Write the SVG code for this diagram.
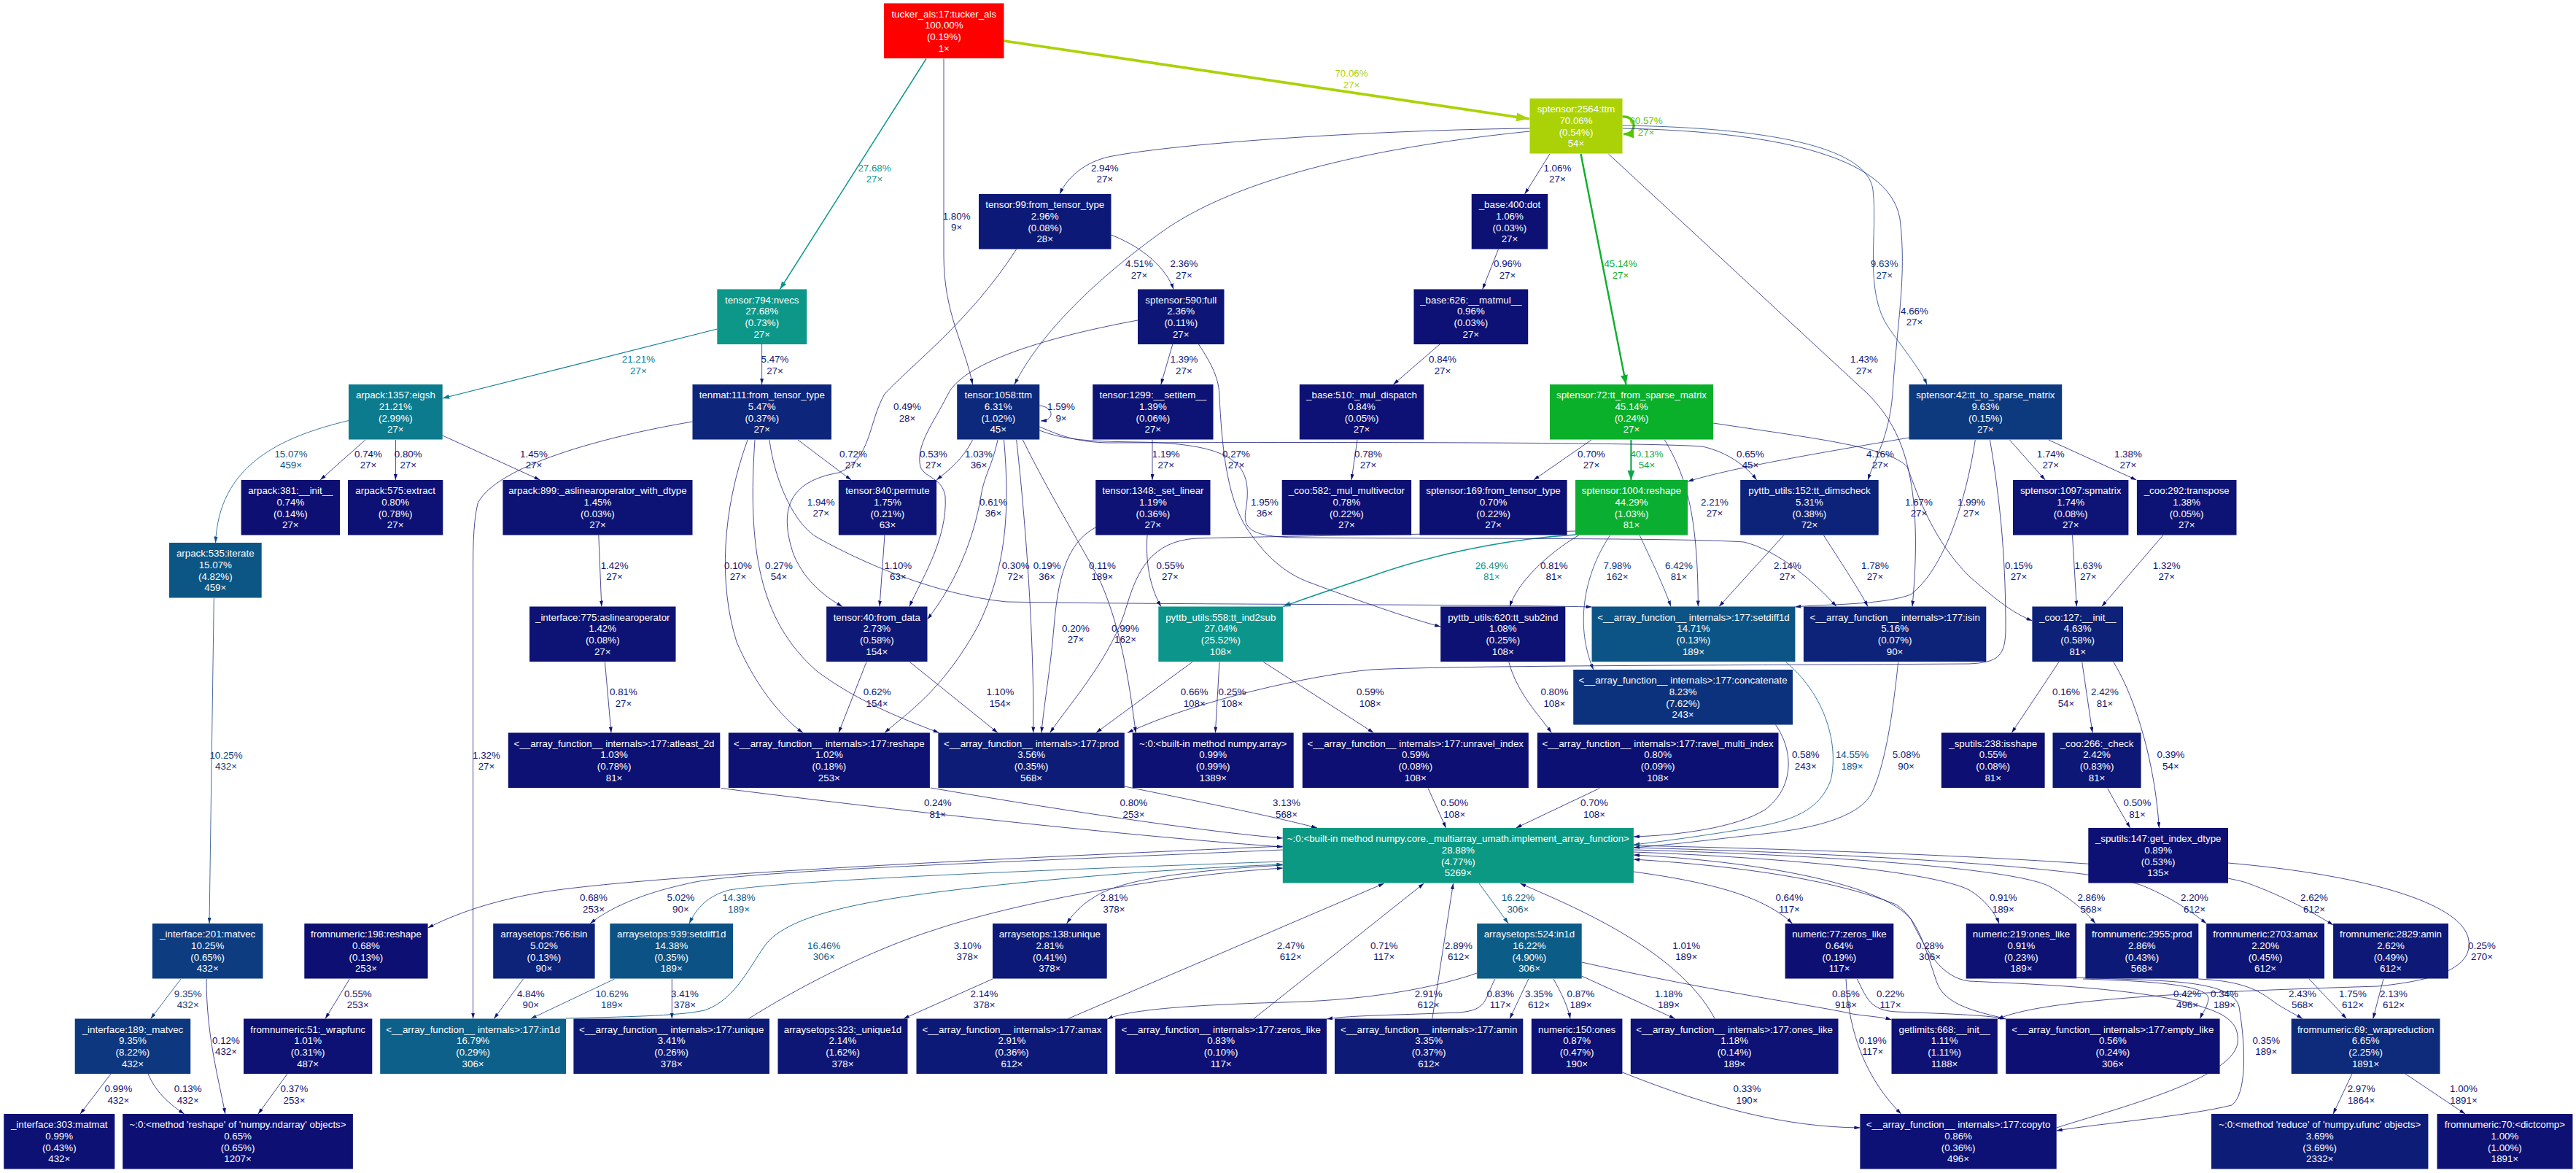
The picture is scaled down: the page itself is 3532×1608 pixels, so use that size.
<svg xmlns="http://www.w3.org/2000/svg" width="3532" height="1608" viewBox="0 0 3532 1608">
<defs>
<style>
text{font-family:"Liberation Sans",Arial,sans-serif;font-size:13.33px;text-anchor:middle}
.nd text{fill:#ffffff}
.e path{fill:none;stroke-width:0.75}
.c0 path{stroke:#0d1074;marker-end:url(#k0)} .c0 text{fill:#0d1074}
.c1 path{stroke:#0d1776;marker-end:url(#k1)} .c1 text{fill:#0d1776}
.c2 path{stroke:#0d2179;marker-end:url(#k2)} .c2 text{fill:#0d2179}
.c3 path{stroke:#0d2d7c;marker-end:url(#k3)} .c3 text{fill:#0d2d7c}
.c4 path{stroke:#0d3a7f;marker-end:url(#k4)} .c4 text{fill:#0d3a7f}
.c5 path{stroke:#0c5486;stroke-width:0.8;marker-end:url(#k5)} .c5 text{fill:#0c5486}
.c6 path{stroke:#0c5d88;stroke-width:0.88;marker-end:url(#k6)} .c6 text{fill:#0c5d88}
.c7 path{stroke:#0c7b8e;stroke-width:1.13;marker-end:url(#k7)} .c7 text{fill:#0c7b8e}
.c8 path{stroke:#0c968b;stroke-width:1.45;marker-end:url(#k8)} .c8 text{fill:#0c968b}
.c9 path{stroke:#0ba849;stroke-width:2.14;marker-end:url(#k9)} .c9 text{fill:#0ba849}
.c10 path{stroke:#0aaf2a;stroke-width:2.41;marker-end:url(#k10)} .c10 text{fill:#0aaf2a}
.c11 path{stroke:#58c508;stroke-width:3.23;marker-end:url(#k11)} .c11 text{fill:#58c508}
.c12 path{stroke:#aad207;stroke-width:3.74;marker-end:url(#k12)} .c12 text{fill:#aad207}
</style>
<marker id="k0" viewBox="0 0 10 10" refX="10" refY="5" markerWidth="8" markerHeight="5" markerUnits="userSpaceOnUse" orient="auto" preserveAspectRatio="none"><path d="M0,0L10,5L0,10z" fill="#0d1074"/></marker>
<marker id="k1" viewBox="0 0 10 10" refX="10" refY="5" markerWidth="8" markerHeight="5" markerUnits="userSpaceOnUse" orient="auto" preserveAspectRatio="none"><path d="M0,0L10,5L0,10z" fill="#0d1776"/></marker>
<marker id="k2" viewBox="0 0 10 10" refX="10" refY="5" markerWidth="8" markerHeight="5" markerUnits="userSpaceOnUse" orient="auto" preserveAspectRatio="none"><path d="M0,0L10,5L0,10z" fill="#0d2179"/></marker>
<marker id="k3" viewBox="0 0 10 10" refX="10" refY="5" markerWidth="8" markerHeight="5" markerUnits="userSpaceOnUse" orient="auto" preserveAspectRatio="none"><path d="M0,0L10,5L0,10z" fill="#0d2d7c"/></marker>
<marker id="k4" viewBox="0 0 10 10" refX="10" refY="5" markerWidth="8" markerHeight="5" markerUnits="userSpaceOnUse" orient="auto" preserveAspectRatio="none"><path d="M0,0L10,5L0,10z" fill="#0d3a7f"/></marker>
<marker id="k5" viewBox="0 0 10 10" refX="10" refY="5" markerWidth="8.5" markerHeight="5.5" markerUnits="userSpaceOnUse" orient="auto" preserveAspectRatio="none"><path d="M0,0L10,5L0,10z" fill="#0c5486"/></marker>
<marker id="k6" viewBox="0 0 10 10" refX="10" refY="5" markerWidth="8.5" markerHeight="5.5" markerUnits="userSpaceOnUse" orient="auto" preserveAspectRatio="none"><path d="M0,0L10,5L0,10z" fill="#0c5d88"/></marker>
<marker id="k7" viewBox="0 0 10 10" refX="10" refY="5" markerWidth="9.5" markerHeight="6.5" markerUnits="userSpaceOnUse" orient="auto" preserveAspectRatio="none"><path d="M0,0L10,5L0,10z" fill="#0c7b8e"/></marker>
<marker id="k8" viewBox="0 0 10 10" refX="10" refY="5" markerWidth="10.5" markerHeight="7.5" markerUnits="userSpaceOnUse" orient="auto" preserveAspectRatio="none"><path d="M0,0L10,5L0,10z" fill="#0c968b"/></marker>
<marker id="k9" viewBox="0 0 10 10" refX="10" refY="5" markerWidth="13" markerHeight="10" markerUnits="userSpaceOnUse" orient="auto" preserveAspectRatio="none"><path d="M0,0L10,5L0,10z" fill="#0ba849"/></marker>
<marker id="k10" viewBox="0 0 10 10" refX="10" refY="5" markerWidth="13" markerHeight="10" markerUnits="userSpaceOnUse" orient="auto" preserveAspectRatio="none"><path d="M0,0L10,5L0,10z" fill="#0aaf2a"/></marker>
<marker id="k11" viewBox="0 0 10 10" refX="10" refY="5" markerWidth="14" markerHeight="11" markerUnits="userSpaceOnUse" orient="auto" preserveAspectRatio="none"><path d="M0,0L10,5L0,10z" fill="#58c508"/></marker>
<marker id="k12" viewBox="0 0 10 10" refX="10" refY="5" markerWidth="18" markerHeight="12" markerUnits="userSpaceOnUse" orient="auto" preserveAspectRatio="none"><path d="M0,0L10,5L0,10z" fill="#aad207"/></marker>
</defs>
<rect x="0" y="0" width="3532" height="1608" fill="#ffffff"/>
<g id="edges">
<g class="e c12"><path d="M1376.5,56 L2097,163"/><text x="1853" y="105.3">70.06%<tspan x="1853" dy="15.7">27×</tspan></text></g>
<g class="e c8"><path d="M1270,80.5 L1069.5,396.5"/><text x="1199" y="234.7">27.68%<tspan x="1199" dy="15.7">27×</tspan></text></g>
<g class="e c1"><path d="M1294,80.5 L1294,350 C1294,430 1322,470 1333.5,527"/><text x="1311.6" y="300.7">1.80%<tspan x="1311.6" dy="15.7">9×</tspan></text></g>
<g class="e c11"><path d="M2224.5,160 C2244,158 2246,184 2226,184"/><text x="2257" y="170.3">60.57%<tspan x="2257" dy="15.7">27×</tspan></text></g>
<g class="e c1"><path d="M2097.5,176 C1900,178 1620,195 1520,215 C1490,222 1465,240 1453,266"/><text x="1514.8" y="234.7">2.94%<tspan x="1514.8" dy="15.7">27×</tspan></text></g>
<g class="e c2"><path d="M2097.5,180 C1900,200 1700,240 1590,320 C1480,400 1420,470 1391,527"/><text x="1562" y="366.3">4.51%<tspan x="1562" dy="15.7">27×</tspan></text></g>
<g class="e c0"><path d="M2125,211 L2090.6,266"/><text x="2135.4" y="234.7">1.06%<tspan x="2135.4" dy="15.7">27×</tspan></text></g>
<g class="e c10"><path d="M2167.5,211 L2229.5,527"/><text x="2222" y="366.3">45.14%<tspan x="2222" dy="15.7">27×</tspan></text></g>
<g class="e c0"><path d="M2205.4,211 L2561,540 C2600,580 2640,640 2622,831.5"/><text x="2556" y="497.2">1.43%<tspan x="2556" dy="15.7">27×</tspan></text></g>
<g class="e c4"><path d="M2224.5,172 C2420,175 2560,200 2568,260 C2575,320 2555,400 2590,450 C2615,485 2635,510 2642,527"/><text x="2583.7" y="366.3">9.63%<tspan x="2583.7" dy="15.7">27×</tspan></text></g>
<g class="e c2"><path d="M2224.5,176 C2420,180 2590,210 2605,300 C2615,380 2600,450 2595,540 C2590,600 2570,630 2561,658"/><text x="2625" y="430.7">4.66%<tspan x="2625" dy="15.7">27×</tspan></text></g>
<g class="e c7"><path d="M983.3,451 L606.7,546"/><text x="875.4" y="497.2">21.21%<tspan x="875.4" dy="15.7">27×</tspan></text></g>
<g class="e c2"><path d="M1044.6,472 L1044.6,527"/><text x="1062.5" y="497.2">5.47%<tspan x="1062.5" dy="15.7">27×</tspan></text></g>
<g class="e c1"><path d="M1523.5,322 C1570,340 1600,370 1609,396.5"/><text x="1623.4" y="366.3">2.36%<tspan x="1623.4" dy="15.7">27×</tspan></text></g>
<g class="e c0"><path d="M1393.7,341.5 C1330,440 1250,500 1213,540 C1190,580 1195,630 1150,648 C1080,660 1068,700 1088,760 C1105,800 1135,820 1155,831.5"/><text x="1244" y="562.2">0.49%<tspan x="1244" dy="15.7">28×</tspan></text></g>
<g class="e c0"><path d="M1607.8,472 L1591.8,527"/><text x="1623.4" y="497.2">1.39%<tspan x="1623.4" dy="15.7">27×</tspan></text></g>
<g class="e c0"><path d="M1560,439 C1420,465 1320,500 1300,540 C1280,580 1255,610 1262,640 C1268,655 1292,655 1296,680 C1300,740 1260,800 1247,831.5"/><text x="1280" y="626.7">0.53%<tspan x="1280" dy="15.7">27×</tspan></text></g>
<g class="e c0"><path d="M1643.5,472 C1662,500 1672,520 1672,545 C1675,600 1680,680 1710,725 C1740,770 1770,790 1800,800 C1880,830 1940,850 1975.2,859"/><text x="1695" y="626.7">0.27%<tspan x="1695" dy="15.7">27×</tspan></text></g>
<g class="e c5"><path d="M478,576.5 C380,600 300,640 295.6,744"/><text x="399" y="626.7">15.07%<tspan x="399" dy="15.7">459×</tspan></text></g>
<g class="e c0"><path d="M501,603 L439,658"/><text x="505" y="626.7">0.74%<tspan x="505" dy="15.7">27×</tspan></text></g>
<g class="e c0"><path d="M542.4,603 L542.4,658"/><text x="559.7" y="626.7">0.80%<tspan x="559.7" dy="15.7">27×</tspan></text></g>
<g class="e c0"><path d="M606.7,597 L740.5,658"/><text x="732" y="626.7">1.45%<tspan x="732" dy="15.7">27×</tspan></text></g>
<g class="e c0"><path d="M820.8,733.5 L824.8,831.5"/><text x="842.6" y="779.7">1.42%<tspan x="842.6" dy="15.7">27×</tspan></text></g>
<g class="e c0"><path d="M829.4,907.5 L838,1004.5"/><text x="855" y="953.1">0.81%<tspan x="855" dy="15.7">27×</tspan></text></g>
<g class="e c4"><path d="M293.3,820 L287,1266"/><text x="310" y="1039.7">10.25%<tspan x="310" dy="15.7">432×</tspan></text></g>
<g class="e c4"><path d="M248,1342 L206.6,1396.5"/><text x="257.7" y="1366.5">9.35%<tspan x="257.7" dy="15.7">432×</tspan></text></g>
<g class="e c0"><path d="M283,1342 C283,1420 300,1480 308.8,1527"/><text x="310" y="1430.7">0.12%<tspan x="310" dy="15.7">432×</tspan></text></g>
<g class="e c0"><path d="M152,1472 L110,1527"/><text x="162.4" y="1497.3">0.99%<tspan x="162.4" dy="15.7">432×</tspan></text></g>
<g class="e c0"><path d="M203,1472 C215,1500 235,1515 252.6,1527"/><text x="257.7" y="1497.3">0.13%<tspan x="257.7" dy="15.7">432×</tspan></text></g>
<g class="e c0"><path d="M394,1472 L354,1527"/><text x="403.5" y="1497.3">0.37%<tspan x="403.5" dy="15.7">253×</tspan></text></g>
<g class="e c0"><path d="M479.3,1342 L446,1396.5"/><text x="490.8" y="1366.7">0.55%<tspan x="490.8" dy="15.7">253×</tspan></text></g>
<g class="e c0"><path d="M1758.8,1160 C1300,1180 900,1200 750,1222 C670,1235 620,1255 586.6,1272"/><text x="814" y="1235.2">0.68%<tspan x="814" dy="15.7">253×</tspan></text></g>
<g class="e c2"><path d="M1758.8,1165 C1300,1185 1000,1195 940,1212 C880,1225 835,1245 809.3,1266"/><text x="933.4" y="1235.2">5.02%<tspan x="933.4" dy="15.7">90×</tspan></text></g>
<g class="e c5"><path d="M1758.8,1181 C1500,1190 1100,1205 1000,1220 C970,1228 955,1245 945,1266"/><text x="1013" y="1235.2">14.38%<tspan x="1013" dy="15.7">189×</tspan></text></g>
<g class="e c2"><path d="M717.5,1342 L677.3,1396.5"/><text x="727.8" y="1366.7">4.84%<tspan x="727.8" dy="15.7">90×</tspan></text></g>
<g class="e c4"><path d="M842.6,1342 L727.8,1396.5"/><text x="839" y="1366.7">10.62%<tspan x="839" dy="15.7">189×</tspan></text></g>
<g class="e c1"><path d="M921.3,1342 L921.3,1396.5"/><text x="939" y="1366.7">3.41%<tspan x="939" dy="15.7">378×</tspan></text></g>
<g class="e c6"><path d="M776,1396 C850,1394 930,1393 966,1385 C1010,1370 1030,1320 1052,1292 C1090,1250 1200,1230 1400,1210 C1550,1195 1680,1188 1758.8,1185"/><text x="1129.7" y="1300.7">16.46%<tspan x="1129.7" dy="15.7">306×</tspan></text></g>
<g class="e c1"><path d="M1026.4,1396.5 C1100,1350 1200,1300 1281.8,1274.6 C1400,1235 1600,1200 1758.8,1190"/><text x="1326.6" y="1300.7">3.10%<tspan x="1326.6" dy="15.7">378×</tspan></text></g>
<g class="e c1"><path d="M1361,1342 L1238.8,1396.5"/><text x="1349.5" y="1366.7">2.14%<tspan x="1349.5" dy="15.7">378×</tspan></text></g>
<g class="e c1"><path d="M1758.8,1186 C1600,1195 1530,1210 1500,1230 C1480,1242 1470,1255 1462.6,1266"/><text x="1527.5" y="1235.2">2.81%<tspan x="1527.5" dy="15.7">378×</tspan></text></g>
<g class="e c1"><path d="M1464.4,1396.5 L1897.8,1211"/><text x="1769.7" y="1300.7">2.47%<tspan x="1769.7" dy="15.7">612×</tspan></text></g>
<g class="e c0"><path d="M1719,1396.5 L1952.3,1211"/><text x="1897.8" y="1300.7">0.71%<tspan x="1897.8" dy="15.7">117×</tspan></text></g>
<g class="e c1"><path d="M1963.8,1396.5 L1992.5,1211"/><text x="2000" y="1300.7">2.89%<tspan x="2000" dy="15.7">612×</tspan></text></g>
<g class="e c6"><path d="M2028,1211 L2068.2,1266"/><text x="2081.4" y="1235.2">16.22%<tspan x="2081.4" dy="15.7">306×</tspan></text></g>
<g class="e c0"><path d="M2351.2,1396.5 C2300,1300 2150,1240 2084.3,1211"/><text x="2312.2" y="1300.7">1.01%<tspan x="2312.2" dy="15.7">189×</tspan></text></g>
<g class="e c1"><path d="M2025.2,1334 C1950,1360 1850,1372 1760,1374 C1620,1378 1545,1385 1518.3,1397"/><text x="1958.6" y="1366.7">2.91%<tspan x="1958.6" dy="15.7">612×</tspan></text></g>
<g class="e c0"><path d="M2049.9,1342 C2035,1370 2040,1385 2000,1388 C1900,1392 1850,1392 1819.1,1397"/><text x="2057.3" y="1366.7">0.83%<tspan x="2057.3" dy="15.7">117×</tspan></text></g>
<g class="e c1"><path d="M2095.8,1342 L2070,1396.5"/><text x="2110" y="1366.7">3.35%<tspan x="2110" dy="15.7">612×</tspan></text></g>
<g class="e c0"><path d="M2130,1342 C2140,1360 2150,1380 2153,1396.5"/><text x="2167.5" y="1366.7">0.87%<tspan x="2167.5" dy="15.7">189×</tspan></text></g>
<g class="e c0"><path d="M2168.7,1338 L2296.7,1396.5"/><text x="2288" y="1366.7">1.18%<tspan x="2288" dy="15.7">189×</tspan></text></g>
<g class="e c0"><path d="M2168.7,1319 C2350,1360 2500,1380 2540,1390 C2560,1393 2580,1394 2593.5,1398"/><text x="2531" y="1366.7">0.85%<tspan x="2531" dy="15.7">918×</tspan></text></g>
<g class="e c0"><path d="M2531,1342 C2535,1420 2560,1480 2606.7,1527"/><text x="2567.7" y="1430.7">0.19%<tspan x="2567.7" dy="15.7">117×</tspan></text></g>
<g class="e c0"><path d="M2546.4,1342 C2560,1370 2565,1385 2600,1387 C2680,1390 2730,1392 2750.2,1397"/><text x="2592" y="1366.7">0.22%<tspan x="2592" dy="15.7">117×</tspan></text></g>
<g class="e c0"><path d="M2224.4,1470 C2350,1520 2450,1545 2550.4,1546"/><text x="2395.5" y="1497.3">0.33%<tspan x="2395.5" dy="15.7">190×</tspan></text></g>
<g class="e c0"><path d="M2847.2,1340 C2950,1345 3060,1340 3070,1380 C3080,1440 3080,1500 3060,1515 C3000,1530 2880,1540 2819.7,1550"/><text x="3107.3" y="1430.7">0.35%<tspan x="3107.3" dy="15.7">189×</tspan></text></g>
<g class="e c0"><path d="M2856,1342 C2950,1345 3030,1350 3028,1370 C3026,1382 3020,1388 3016.6,1396.5"/><text x="3050" y="1366.7">0.34%<tspan x="3050" dy="15.7">189×</tspan></text></g>
<g class="e c0"><path d="M2819.7,1546 C2900,1520 3060,1480 3068,1430 C3072,1395 3040,1385 2990,1372 C2900,1352 2760,1348 2700,1345 C2660,1340 2640,1300 2620,1260 C2580,1210 2400,1180 2239.9,1172"/><text x="2999" y="1366.7">0.42%<tspan x="2999" dy="15.7">496×</tspan></text></g>
<g class="e c0"><path d="M2750.2,1396.5 C2700,1385 2665,1375 2655,1345 C2640,1300 2630,1260 2600,1240 C2500,1200 2350,1185 2239.9,1178"/><text x="2646" y="1300.7">0.28%<tspan x="2646" dy="15.7">306×</tspan></text></g>
<g class="e c0"><path d="M2239.9,1195 C2350,1210 2420,1230 2457.5,1266"/><text x="2453.4" y="1235.2">0.64%<tspan x="2453.4" dy="15.7">117×</tspan></text></g>
<g class="e c0"><path d="M2239.9,1168 C2450,1176 2650,1195 2700,1220 C2720,1232 2735,1250 2741,1266"/><text x="2746.8" y="1235.2">0.91%<tspan x="2746.8" dy="15.7">189×</tspan></text></g>
<g class="e c1"><path d="M2239.9,1165 C2500,1172 2760,1190 2810,1215 C2840,1232 2860,1250 2873,1266"/><text x="2867.4" y="1235.2">2.86%<tspan x="2867.4" dy="15.7">568×</tspan></text></g>
<g class="e c1"><path d="M2239.9,1162 C2550,1170 2880,1190 2940,1215 C2980,1232 3005,1250 3025.2,1266"/><text x="3009" y="1235.2">2.20%<tspan x="3009" dy="15.7">612×</tspan></text></g>
<g class="e c1"><path d="M2239.9,1159 C2600,1167 3000,1185 3080,1210 C3130,1228 3170,1250 3199.1,1268"/><text x="3173" y="1235.2">2.62%<tspan x="3173" dy="15.7">612×</tspan></text></g>
<g class="e c1"><path d="M3014.3,1342 C3080,1345 3100,1360 3120,1375 C3135,1385 3150,1392 3157,1396.5"/><text x="3157" y="1366.7">2.43%<tspan x="3157" dy="15.7">568×</tspan></text></g>
<g class="e c1"><path d="M3166,1342 L3217.5,1396.5"/><text x="3226" y="1366.7">1.75%<tspan x="3226" dy="15.7">612×</tspan></text></g>
<g class="e c1"><path d="M3268,1342 L3253.7,1396.5"/><text x="3282" y="1366.7">2.13%<tspan x="3282" dy="15.7">612×</tspan></text></g>
<g class="e c1"><path d="M3225,1472 L3199,1527"/><text x="3237.6" y="1497.3">2.97%<tspan x="3237.6" dy="15.7">1864×</tspan></text></g>
<g class="e c0"><path d="M3298,1472 L3380,1527"/><text x="3378" y="1497.3">1.00%<tspan x="3378" dy="15.7">1891×</tspan></text></g>
<g class="e c0"><path d="M3055,1183 C3250,1200 3380,1240 3385,1290 C3390,1330 3330,1345 3260,1352 C3000,1360 2800,1370 2738.8,1397"/><text x="3403" y="1300.7">0.25%<tspan x="3403" dy="15.7">270×</tspan></text></g>
<g class="e c0"><path d="M2823,907.5 L2758.3,1004.5"/><text x="2833" y="953.1">0.16%<tspan x="2833" dy="15.7">54×</tspan></text></g>
<g class="e c1"><path d="M2854.7,907.5 L2869,1004.5"/><text x="2886" y="953.1">2.42%<tspan x="2886" dy="15.7">81×</tspan></text></g>
<g class="e c0"><path d="M2897.8,907.5 C2930,960 2955,1050 2960.4,1135"/><text x="2976.4" y="1039.2">0.39%<tspan x="2976.4" dy="15.7">54×</tspan></text></g>
<g class="e c0"><path d="M2889.7,1080.5 C2900,1100 2912,1120 2920.7,1135"/><text x="2930.5" y="1105.4">0.50%<tspan x="2930.5" dy="15.7">81×</tspan></text></g>
<g class="e c1"><path d="M2841.5,733.5 L2847.3,831.5"/><text x="2863.3" y="779.7">1.63%<tspan x="2863.3" dy="15.7">27×</tspan></text></g>
<g class="e c0"><path d="M2966,733.5 L2881.7,831.5"/><text x="2970.7" y="779.7">1.32%<tspan x="2970.7" dy="15.7">27×</tspan></text></g>
<g class="e c1"><path d="M2755.4,603 L2804.2,658"/><text x="2811.7" y="626.7">1.74%<tspan x="2811.7" dy="15.7">27×</tspan></text></g>
<g class="e c0"><path d="M2808.8,603 L2929.3,658"/><text x="2917.9" y="626.7">1.38%<tspan x="2917.9" dy="15.7">27×</tspan></text></g>
<g class="e c2"><path d="M2617.5,600 C2500,620 2380,640 2314,660"/><text x="2578" y="626.7">4.16%<tspan x="2578" dy="15.7">27×</tspan></text></g>
<g class="e c1"><path d="M2708.3,603 C2695,690 2665,780 2620,815 C2580,830 2500,828 2461.4,832"/><text x="2703" y="692.7">1.99%<tspan x="2703" dy="15.7">27×</tspan></text></g>
<g class="e c0"><path d="M2728.4,603 C2745,700 2750,780 2750,860 C2750,900 2740,908 2700,910 C2400,912 2000,912 1880,918 C1800,925 1640,960 1546,1004.5"/><text x="2768" y="779.7">0.15%<tspan x="2768" dy="15.7">27×</tspan></text></g>
<g class="e c0"><path d="M2182,603 L2102.7,658"/><text x="2182" y="626.7">0.70%<tspan x="2182" dy="15.7">27×</tspan></text></g>
<g class="e c9"><path d="M2236.4,603 L2236.4,658"/><text x="2258" y="626.7">40.13%<tspan x="2258" dy="15.7">54×</tspan></text></g>
<g class="e c1"><path d="M2282.4,603 C2310,650 2328,700 2328.3,831.5"/><text x="2351" y="692.7">2.21%<tspan x="2351" dy="15.7">27×</tspan></text></g>
<g class="e c1"><path d="M2349,580 C2480,600 2590,612 2615,640 C2630,680 2650,740 2700,790 C2740,825 2760,840 2786.4,851"/><text x="2631" y="692.7">1.67%<tspan x="2631" dy="15.7">27×</tspan></text></g>
<g class="e c8"><path d="M2160,733 C2050,740 1950,765 1880,790 C1820,810 1790,820 1759.3,831.5"/><text x="2045.3" y="779.7">26.49%<tspan x="2045.3" dy="15.7">81×</tspan></text></g>
<g class="e c0"><path d="M2165,733.5 C2120,760 2080,800 2070,831.5"/><text x="2130.8" y="779.7">0.81%<tspan x="2130.8" dy="15.7">81×</tspan></text></g>
<g class="e c3"><path d="M2207.7,733.5 C2170,790 2160,860 2184.8,918"/><text x="2217.5" y="779.7">7.98%<tspan x="2217.5" dy="15.7">162×</tspan></text></g>
<g class="e c3"><path d="M2248,733.5 C2265,770 2280,800 2291,831.5"/><text x="2302" y="779.7">6.42%<tspan x="2302" dy="15.7">81×</tspan></text></g>
<g class="e c0"><path d="M2160,728 C2000,732 1800,734 1640,738 C1580,742 1560,780 1545,830 C1525,900 1470,960 1439.7,1004.5"/><text x="1543" y="865.7">0.99%<tspan x="1543" dy="15.7">162×</tspan></text></g>
<g class="e c1"><path d="M2446,733.5 L2357,831.5"/><text x="2451" y="779.7">2.14%<tspan x="2451" dy="15.7">27×</tspan></text></g>
<g class="e c1"><path d="M2500.5,734 C2530,780 2550,810 2561,831.5"/><text x="2571" y="779.7">1.78%<tspan x="2571" dy="15.7">27×</tspan></text></g>
<g class="e c0"><path d="M1425.3,585 C1460,600 1480,606 1520,607 C1800,606 2250,606 2334,612 C2370,620 2395,640 2408.6,658"/><text x="2400" y="626.7">0.65%<tspan x="2400" dy="15.7">45×</tspan></text></g>
<g class="e c1"><path d="M1425.3,590 C1460,603 1490,605 1560,606 C1700,608 1718,640 1708,700 C1704,725 1715,736 1780,737 C2000,739 2300,737 2391,743 C2440,755 2490,800 2518,831.5"/><text x="1734" y="692.7">1.95%<tspan x="1734" dy="15.7">36×</tspan></text></g>
<g class="e c1"><path d="M1425.3,556 C1445,558 1447,576 1427,577"/><text x="1455" y="562.2">1.59%<tspan x="1455" dy="15.7">9×</tspan></text></g>
<g class="e c0"><path d="M1333.5,603 C1320,630 1300,645 1284.1,658"/><text x="1342" y="626.7">1.03%<tspan x="1342" dy="15.7">36×</tspan></text></g>
<g class="e c0"><path d="M1368,603 C1360,640 1350,650 1345,680 C1335,740 1310,800 1271.5,849"/><text x="1362" y="692.7">0.61%<tspan x="1362" dy="15.7">36×</tspan></text></g>
<g class="e c0"><path d="M1376.5,603 C1385,700 1380,780 1340,860 C1290,950 1240,980 1213,1004.5"/><text x="1392.6" y="779.7">0.30%<tspan x="1392.6" dy="15.7">72×</tspan></text></g>
<g class="e c0"><path d="M1393.7,603 C1410,750 1418,900 1416.7,1004.5"/><text x="1435.6" y="779.7">0.19%<tspan x="1435.6" dy="15.7">36×</tspan></text></g>
<g class="e c0"><path d="M1402.4,603 C1440,680 1490,760 1510,800 C1540,870 1550,950 1557.3,1004.5"/><text x="1511.4" y="779.7">0.11%<tspan x="1511.4" dy="15.7">189×</tspan></text></g>
<g class="e c0"><path d="M1580,603 L1580,658"/><text x="1598.7" y="626.7">1.19%<tspan x="1598.7" dy="15.7">27×</tspan></text></g>
<g class="e c0"><path d="M1502.2,723 C1460,745 1450,800 1445,860 C1440,920 1432,960 1428,1004.5"/><text x="1475" y="865.7">0.20%<tspan x="1475" dy="15.7">27×</tspan></text></g>
<g class="e c0"><path d="M1573,733.5 C1570,780 1580,810 1591.8,831.5"/><text x="1604.4" y="779.7">0.55%<tspan x="1604.4" dy="15.7">27×</tspan></text></g>
<g class="e c1"><path d="M1055,603 C1062,660 1090,720 1121,737 C1180,770 1280,815 1380,825 C1600,829 2000,828 2182.5,832"/><text x="1125.7" y="692.7">1.94%<tspan x="1125.7" dy="15.7">27×</tspan></text></g>
<g class="e c0"><path d="M1094,603 L1167,658"/><text x="1170" y="626.7">0.72%<tspan x="1170" dy="15.7">27×</tspan></text></g>
<g class="e c0"><path d="M1025,603 C990,700 985,800 1010,880 C1040,950 1080,990 1101,1004.5"/><text x="1012" y="779.7">0.10%<tspan x="1012" dy="15.7">27×</tspan></text></g>
<g class="e c0"><path d="M1035,603 C1025,750 1040,850 1120,920 C1180,965 1250,990 1287.5,1004.5"/><text x="1068" y="779.7">0.27%<tspan x="1068" dy="15.7">54×</tspan></text></g>
<g class="e c0"><path d="M949.5,578 C820,600 680,640 655,690 C648,720 648.6,760 648.6,800 L648.6,1396.5"/><text x="667" y="1039.7">1.32%<tspan x="667" dy="15.7">27×</tspan></text></g>
<g class="e c0"><path d="M1213,733.5 L1206,831.5"/><text x="1231.3" y="779.7">1.10%<tspan x="1231.3" dy="15.7">63×</tspan></text></g>
<g class="e c0"><path d="M1188,907.5 L1149.8,1004.5"/><text x="1202.6" y="953.1">0.62%<tspan x="1202.6" dy="15.7">154×</tspan></text></g>
<g class="e c0"><path d="M1247.4,907.5 L1368,1004.5"/><text x="1371.4" y="953.1">1.10%<tspan x="1371.4" dy="15.7">154×</tspan></text></g>
<g class="e c0"><path d="M1634.8,907.5 L1502.8,1004.5"/><text x="1637.7" y="953.1">0.66%<tspan x="1637.7" dy="15.7">108×</tspan></text></g>
<g class="e c0"><path d="M1672,907.5 L1666.4,1004.5"/><text x="1689.4" y="953.1">0.25%<tspan x="1689.4" dy="15.7">108×</tspan></text></g>
<g class="e c0"><path d="M1732.4,907.5 L1883.4,1004.5"/><text x="1878.8" y="953.1">0.59%<tspan x="1878.8" dy="15.7">108×</tspan></text></g>
<g class="e c0"><path d="M2068.8,907.5 C2080,950 2110,980 2127.4,1004.5"/><text x="2131.4" y="953.1">0.80%<tspan x="2131.4" dy="15.7">108×</tspan></text></g>
<g class="e c0"><path d="M2434.5,993.5 C2460,1030 2460,1080 2420,1110 C2380,1135 2300,1145 2239.9,1147"/><text x="2475.8" y="1039.2">0.58%<tspan x="2475.8" dy="15.7">243×</tspan></text></g>
<g class="e c5"><path d="M2448.8,907.5 C2510,960 2520,1030 2510,1070 C2495,1110 2460,1125 2400,1135 C2340,1145 2290,1152 2239.9,1158"/><text x="2539.5" y="1039.2">14.55%<tspan x="2539.5" dy="15.7">189×</tspan></text></g>
<g class="e c2"><path d="M2602.7,907.5 C2595,980 2585,1050 2565,1090 C2540,1130 2450,1140 2400,1145 C2340,1152 2290,1158 2239.9,1162"/><text x="2613.6" y="1039.2">5.08%<tspan x="2613.6" dy="15.7">90×</tspan></text></g>
<g class="e c0"><path d="M1958,1080.5 L1982.7,1135"/><text x="1994.2" y="1105.4">0.50%<tspan x="1994.2" dy="15.7">108×</tspan></text></g>
<g class="e c0"><path d="M2193.4,1080.5 L2078.6,1135"/><text x="2186" y="1105.4">0.70%<tspan x="2186" dy="15.7">108×</tspan></text></g>
<g class="e c0"><path d="M989,1080.5 C1300,1120 1600,1150 1758.8,1161"/><text x="1285.8" y="1105.4">0.24%<tspan x="1285.8" dy="15.7">81×</tspan></text></g>
<g class="e c0"><path d="M1276,1080 C1450,1110 1650,1140 1758.8,1149"/><text x="1554.5" y="1105.4">0.80%<tspan x="1554.5" dy="15.7">253×</tspan></text></g>
<g class="e c1"><path d="M1541.8,1078 C1650,1100 1750,1120 1806,1135"/><text x="1764" y="1105.4">3.13%<tspan x="1764" dy="15.7">568×</tspan></text></g>
<g class="e c0"><path d="M2054.5,341.5 L2032.7,396.5"/><text x="2067" y="366.3">0.96%<tspan x="2067" dy="15.7">27×</tspan></text></g>
<g class="e c0"><path d="M1974,472 L1910.4,527"/><text x="1978" y="497.2">0.84%<tspan x="1978" dy="15.7">27×</tspan></text></g>
<g class="e c0"><path d="M1861,603 L1853,658"/><text x="1876" y="626.7">0.78%<tspan x="1876" dy="15.7">27×</tspan></text></g>
</g>
<g id="n1" class="nd"><rect x="1212" y="4.5" width="164.5" height="75.5" fill="#ff0000"/><text x="1294.25" y="23.5">tucker_als:17:tucker_als<tspan x="1294.25" dy="15.8">100.00%</tspan><tspan x="1294.25" dy="15.8">(0.19%)</tspan><tspan x="1294.25" dy="15.8">1×</tspan></text></g>
<g id="n2" class="nd"><rect x="2097.5" y="135" width="127" height="75.5" fill="#aad207"/><text x="2161" y="154">sptensor:2564:ttm<tspan x="2161" dy="15.8">70.06%</tspan><tspan x="2161" dy="15.8">(0.54%)</tspan><tspan x="2161" dy="15.8">54×</tspan></text></g>
<g id="n3" class="nd"><rect x="983.3" y="396.5" width="122.9" height="75.5" fill="#0c9788"/><text x="1044.75" y="415.5">tensor:794:nvecs<tspan x="1044.75" dy="15.8">27.68%</tspan><tspan x="1044.75" dy="15.8">(0.73%)</tspan><tspan x="1044.75" dy="15.8">27×</tspan></text></g>
<g id="n4" class="nd"><rect x="1342" y="266" width="181.5" height="75.5" fill="#0d1977"/><text x="1432.75" y="285">tensor:99:from_tensor_type<tspan x="1432.75" dy="15.8">2.96%</tspan><tspan x="1432.75" dy="15.8">(0.08%)</tspan><tspan x="1432.75" dy="15.8">28×</tspan></text></g>
<g id="n5" class="nd"><rect x="1560" y="396.5" width="118.5" height="75.5" fill="#0d1676"/><text x="1619.25" y="415.5">sptensor:590:full<tspan x="1619.25" dy="15.8">2.36%</tspan><tspan x="1619.25" dy="15.8">(0.11%)</tspan><tspan x="1619.25" dy="15.8">27×</tspan></text></g>
<g id="n6" class="nd"><rect x="2017.7" y="266" width="104.5" height="75.5" fill="#0d1174"/><text x="2069.95" y="285">_base:400:dot<tspan x="2069.95" dy="15.8">1.06%</tspan><tspan x="2069.95" dy="15.8">(0.03%)</tspan><tspan x="2069.95" dy="15.8">27×</tspan></text></g>
<g id="n7" class="nd"><rect x="1938.5" y="396.5" width="156.7" height="75.5" fill="#0d1074"/><text x="2016.85" y="415.5">_base:626:__matmul__<tspan x="2016.85" dy="15.8">0.96%</tspan><tspan x="2016.85" dy="15.8">(0.03%)</tspan><tspan x="2016.85" dy="15.8">27×</tspan></text></g>
<g id="n8" class="nd"><rect x="1781.8" y="527" width="170.5" height="75.5" fill="#0d1074"/><text x="1867.05" y="546">_base:510:_mul_dispatch<tspan x="1867.05" dy="15.8">0.84%</tspan><tspan x="1867.05" dy="15.8">(0.05%)</tspan><tspan x="1867.05" dy="15.8">27×</tspan></text></g>
<g id="n9" class="nd"><rect x="2125" y="527" width="224" height="75.5" fill="#0aaf2a"/><text x="2237" y="546">sptensor:72:tt_from_sparse_matrix<tspan x="2237" dy="15.8">45.14%</tspan><tspan x="2237" dy="15.8">(0.24%)</tspan><tspan x="2237" dy="15.8">27×</tspan></text></g>
<g id="n10" class="nd"><rect x="2617.5" y="527" width="209.7" height="75.5" fill="#0d397f"/><text x="2722.35" y="546">sptensor:42:tt_to_sparse_matrix<tspan x="2722.35" dy="15.8">9.63%</tspan><tspan x="2722.35" dy="15.8">(0.15%)</tspan><tspan x="2722.35" dy="15.8">27×</tspan></text></g>
<g id="n11" class="nd"><rect x="478" y="527" width="128.7" height="75.5" fill="#0c7b8e"/><text x="542.35" y="546">arpack:1357:eigsh<tspan x="542.35" dy="15.8">21.21%</tspan><tspan x="542.35" dy="15.8">(2.99%)</tspan><tspan x="542.35" dy="15.8">27×</tspan></text></g>
<g id="n12" class="nd"><rect x="949.5" y="527" width="190.5" height="75.5" fill="#0d257a"/><text x="1044.75" y="546">tenmat:111:from_tensor_type<tspan x="1044.75" dy="15.8">5.47%</tspan><tspan x="1044.75" dy="15.8">(0.37%)</tspan><tspan x="1044.75" dy="15.8">27×</tspan></text></g>
<g id="n13" class="nd"><rect x="1312.2" y="527" width="113.1" height="75.5" fill="#0d297b"/><text x="1368.75" y="546">tensor:1058:ttm<tspan x="1368.75" dy="15.8">6.31%</tspan><tspan x="1368.75" dy="15.8">(1.02%)</tspan><tspan x="1368.75" dy="15.8">45×</tspan></text></g>
<g id="n14" class="nd"><rect x="1498.2" y="527" width="165.3" height="75.5" fill="#0d1374"/><text x="1580.85" y="546">tensor:1299:__setitem__<tspan x="1580.85" dy="15.8">1.39%</tspan><tspan x="1580.85" dy="15.8">(0.06%)</tspan><tspan x="1580.85" dy="15.8">27×</tspan></text></g>
<g id="n15" class="nd"><rect x="330.6" y="658" width="135.5" height="75.5" fill="#0d0f73"/><text x="398.35" y="677">arpack:381:__init__<tspan x="398.35" dy="15.8">0.74%</tspan><tspan x="398.35" dy="15.8">(0.14%)</tspan><tspan x="398.35" dy="15.8">27×</tspan></text></g>
<g id="n16" class="nd"><rect x="477" y="658" width="130.3" height="75.5" fill="#0d1074"/><text x="542.15" y="677">arpack:575:extract<tspan x="542.15" dy="15.8">0.80%</tspan><tspan x="542.15" dy="15.8">(0.78%)</tspan><tspan x="542.15" dy="15.8">27×</tspan></text></g>
<g id="n17" class="nd"><rect x="689.4" y="658" width="260.1" height="75.5" fill="#0d1374"/><text x="819.45" y="677">arpack:899:_aslinearoperator_with_dtype<tspan x="819.45" dy="15.8">1.45%</tspan><tspan x="819.45" dy="15.8">(0.03%)</tspan><tspan x="819.45" dy="15.8">27×</tspan></text></g>
<g id="n18" class="nd"><rect x="1149.8" y="658" width="134.3" height="75.5" fill="#0d1475"/><text x="1216.95" y="677">tensor:840:permute<tspan x="1216.95" dy="15.8">1.75%</tspan><tspan x="1216.95" dy="15.8">(0.21%)</tspan><tspan x="1216.95" dy="15.8">63×</tspan></text></g>
<g id="n19" class="nd"><rect x="1502.2" y="658" width="157.3" height="75.5" fill="#0d1274"/><text x="1580.85" y="677">tensor:1348:_set_linear<tspan x="1580.85" dy="15.8">1.19%</tspan><tspan x="1580.85" dy="15.8">(0.36%)</tspan><tspan x="1580.85" dy="15.8">27×</tspan></text></g>
<g id="n20" class="nd"><rect x="1757.7" y="658" width="177.4" height="75.5" fill="#0d1073"/><text x="1846.4" y="677">_coo:582:_mul_multivector<tspan x="1846.4" dy="15.8">0.78%</tspan><tspan x="1846.4" dy="15.8">(0.22%)</tspan><tspan x="1846.4" dy="15.8">27×</tspan></text></g>
<g id="n21" class="nd"><rect x="1946.5" y="658" width="202.1" height="75.5" fill="#0d1073"/><text x="2047.55" y="677">sptensor:169:from_tensor_type<tspan x="2047.55" dy="15.8">0.70%</tspan><tspan x="2047.55" dy="15.8">(0.22%)</tspan><tspan x="2047.55" dy="15.8">27×</tspan></text></g>
<g id="n22" class="nd"><rect x="2160" y="658" width="154" height="75.5" fill="#0aae30"/><text x="2237" y="677">sptensor:1004:reshape<tspan x="2237" dy="15.8">44.29%</tspan><tspan x="2237" dy="15.8">(1.03%)</tspan><tspan x="2237" dy="15.8">81×</tspan></text></g>
<g id="n23" class="nd"><rect x="2386.2" y="658" width="189.5" height="75.5" fill="#0d2279"/><text x="2480.95" y="677">pyttb_utils:152:tt_dimscheck<tspan x="2480.95" dy="15.8">5.31%</tspan><tspan x="2480.95" dy="15.8">(0.38%)</tspan><tspan x="2480.95" dy="15.8">72×</tspan></text></g>
<g id="n24" class="nd"><rect x="2760" y="658" width="158.4" height="75.5" fill="#0d1475"/><text x="2839.2" y="677">sptensor:1097:spmatrix<tspan x="2839.2" dy="15.8">1.74%</tspan><tspan x="2839.2" dy="15.8">(0.08%)</tspan><tspan x="2839.2" dy="15.8">27×</tspan></text></g>
<g id="n25" class="nd"><rect x="2929.9" y="658" width="136.6" height="75.5" fill="#0d1374"/><text x="2998.2" y="677">_coo:292:transpose<tspan x="2998.2" dy="15.8">1.38%</tspan><tspan x="2998.2" dy="15.8">(0.05%)</tspan><tspan x="2998.2" dy="15.8">27×</tspan></text></g>
<g id="n26" class="nd"><rect x="231.9" y="744" width="126.8" height="75.5" fill="#0c5686"/><text x="295.3" y="763">arpack:535:iterate<tspan x="295.3" dy="15.8">15.07%</tspan><tspan x="295.3" dy="15.8">(4.82%)</tspan><tspan x="295.3" dy="15.8">459×</tspan></text></g>
<g id="n27" class="nd"><rect x="726" y="831.5" width="200.5" height="75.5" fill="#0d1374"/><text x="826.25" y="850.5">_interface:775:aslinearoperator<tspan x="826.25" dy="15.8">1.42%</tspan><tspan x="826.25" dy="15.8">(0.08%)</tspan><tspan x="826.25" dy="15.8">27×</tspan></text></g>
<g id="n28" class="nd"><rect x="1133.1" y="831.5" width="138.4" height="75.5" fill="#0d1877"/><text x="1202.3" y="850.5">tensor:40:from_data<tspan x="1202.3" dy="15.8">2.73%</tspan><tspan x="1202.3" dy="15.8">(0.58%)</tspan><tspan x="1202.3" dy="15.8">154×</tspan></text></g>
<g id="n29" class="nd"><rect x="1588.3" y="831.5" width="171" height="75.5" fill="#0c968b"/><text x="1673.8" y="850.5">pyttb_utils:558:tt_ind2sub<tspan x="1673.8" dy="15.8">27.04%</tspan><tspan x="1673.8" dy="15.8">(25.52%)</tspan><tspan x="1673.8" dy="15.8">108×</tspan></text></g>
<g id="n30" class="nd"><rect x="1975.2" y="831.5" width="171.1" height="75.5" fill="#0d1174"/><text x="2060.75" y="850.5">pyttb_utils:620:tt_sub2ind<tspan x="2060.75" dy="15.8">1.08%</tspan><tspan x="2060.75" dy="15.8">(0.25%)</tspan><tspan x="2060.75" dy="15.8">108×</tspan></text></g>
<g id="n31" class="nd"><rect x="2182.5" y="831.5" width="278.9" height="75.5" fill="#0c5486"/><text x="2321.95" y="850.5">&lt;__array_function__ internals&gt;:177:setdiff1d<tspan x="2321.95" dy="15.8">14.71%</tspan><tspan x="2321.95" dy="15.8">(0.13%)</tspan><tspan x="2321.95" dy="15.8">189×</tspan></text></g>
<g id="n32" class="nd"><rect x="2472.9" y="831.5" width="250.4" height="75.5" fill="#0d2279"/><text x="2598.1" y="850.5">&lt;__array_function__ internals&gt;:177:isin<tspan x="2598.1" dy="15.8">5.16%</tspan><tspan x="2598.1" dy="15.8">(0.07%)</tspan><tspan x="2598.1" dy="15.8">90×</tspan></text></g>
<g id="n33" class="nd"><rect x="2786.4" y="831.5" width="124.6" height="75.5" fill="#0d2179"/><text x="2848.7" y="850.5">_coo:127:__init__<tspan x="2848.7" dy="15.8">4.63%</tspan><tspan x="2848.7" dy="15.8">(0.58%)</tspan><tspan x="2848.7" dy="15.8">81×</tspan></text></g>
<g id="n34" class="nd"><rect x="2157.2" y="918" width="300.8" height="75.5" fill="#0d327d"/><text x="2307.6" y="937">&lt;__array_function__ internals&gt;:177:concatenate<tspan x="2307.6" dy="15.8">8.23%</tspan><tspan x="2307.6" dy="15.8">(7.62%)</tspan><tspan x="2307.6" dy="15.8">243×</tspan></text></g>
<g id="n35" class="nd"><rect x="696.8" y="1004.5" width="290.5" height="75.5" fill="#0d1174"/><text x="842.05" y="1023.5">&lt;__array_function__ internals&gt;:177:atleast_2d<tspan x="842.05" dy="15.8">1.03%</tspan><tspan x="842.05" dy="15.8">(0.78%)</tspan><tspan x="842.05" dy="15.8">81×</tspan></text></g>
<g id="n36" class="nd"><rect x="998.8" y="1004.5" width="276.1" height="75.5" fill="#0d1174"/><text x="1136.85" y="1023.5">&lt;__array_function__ internals&gt;:177:reshape<tspan x="1136.85" dy="15.8">1.02%</tspan><tspan x="1136.85" dy="15.8">(0.18%)</tspan><tspan x="1136.85" dy="15.8">253×</tspan></text></g>
<g id="n37" class="nd"><rect x="1286.4" y="1004.5" width="255.4" height="75.5" fill="#0d1c77"/><text x="1414.1" y="1023.5">&lt;__array_function__ internals&gt;:177:prod<tspan x="1414.1" dy="15.8">3.56%</tspan><tspan x="1414.1" dy="15.8">(0.35%)</tspan><tspan x="1414.1" dy="15.8">568×</tspan></text></g>
<g id="n38" class="nd"><rect x="1552.7" y="1004.5" width="221" height="75.5" fill="#0d1174"/><text x="1663.2" y="1023.5">~:0:&lt;built-in method numpy.array&gt;<tspan x="1663.2" dy="15.8">0.99%</tspan><tspan x="1663.2" dy="15.8">(0.99%)</tspan><tspan x="1663.2" dy="15.8">1389×</tspan></text></g>
<g id="n39" class="nd"><rect x="1785.8" y="1004.5" width="310" height="75.5" fill="#0d0f73"/><text x="1940.8" y="1023.5">&lt;__array_function__ internals&gt;:177:unravel_index<tspan x="1940.8" dy="15.8">0.59%</tspan><tspan x="1940.8" dy="15.8">(0.08%)</tspan><tspan x="1940.8" dy="15.8">108×</tspan></text></g>
<g id="n40" class="nd"><rect x="2107.8" y="1004.5" width="330.7" height="75.5" fill="#0d1073"/><text x="2273.15" y="1023.5">&lt;__array_function__ internals&gt;:177:ravel_multi_index<tspan x="2273.15" dy="15.8">0.80%</tspan><tspan x="2273.15" dy="15.8">(0.09%)</tspan><tspan x="2273.15" dy="15.8">108×</tspan></text></g>
<g id="n41" class="nd"><rect x="2661.8" y="1004.5" width="141.8" height="75.5" fill="#0d0f73"/><text x="2732.7" y="1023.5">_sputils:238:isshape<tspan x="2732.7" dy="15.8">0.55%</tspan><tspan x="2732.7" dy="15.8">(0.08%)</tspan><tspan x="2732.7" dy="15.8">81×</tspan></text></g>
<g id="n42" class="nd"><rect x="2814.5" y="1004.5" width="121.1" height="75.5" fill="#0d1776"/><text x="2875.05" y="1023.5">_coo:266:_check<tspan x="2875.05" dy="15.8">2.42%</tspan><tspan x="2875.05" dy="15.8">(0.83%)</tspan><tspan x="2875.05" dy="15.8">81×</tspan></text></g>
<g id="n43" class="nd"><rect x="2863.3" y="1135" width="191.7" height="75.5" fill="#0d1174"/><text x="2959.15" y="1154">_sputils:147:get_index_dtype<tspan x="2959.15" dy="15.8">0.89%</tspan><tspan x="2959.15" dy="15.8">(0.53%)</tspan><tspan x="2959.15" dy="15.8">135×</tspan></text></g>
<g id="n44" class="nd"><rect x="1758.8" y="1135" width="481.1" height="75.5" fill="#0c9983"/><text x="1999.35" y="1154">~:0:&lt;built-in method numpy.core._multiarray_umath.implement_array_function&gt;<tspan x="1999.35" dy="15.8">28.88%</tspan><tspan x="1999.35" dy="15.8">(4.77%)</tspan><tspan x="1999.35" dy="15.8">5269×</tspan></text></g>
<g id="n45" class="nd"><rect x="208.9" y="1266" width="151.6" height="75.5" fill="#0d3c80"/><text x="284.7" y="1285">_interface:201:matvec<tspan x="284.7" dy="15.8">10.25%</tspan><tspan x="284.7" dy="15.8">(0.65%)</tspan><tspan x="284.7" dy="15.8">432×</tspan></text></g>
<g id="n46" class="nd"><rect x="417.3" y="1266" width="169.3" height="75.5" fill="#0d0f73"/><text x="501.95" y="1285">fromnumeric:198:reshape<tspan x="501.95" dy="15.8">0.68%</tspan><tspan x="501.95" dy="15.8">(0.13%)</tspan><tspan x="501.95" dy="15.8">253×</tspan></text></g>
<g id="n47" class="nd"><rect x="676.2" y="1266" width="139.4" height="75.5" fill="#0d2279"/><text x="745.9" y="1285">arraysetops:766:isin<tspan x="745.9" dy="15.8">5.02%</tspan><tspan x="745.9" dy="15.8">(0.13%)</tspan><tspan x="745.9" dy="15.8">90×</tspan></text></g>
<g id="n48" class="nd"><rect x="836.3" y="1266" width="168.8" height="75.5" fill="#0c5285"/><text x="920.7" y="1285">arraysetops:939:setdiff1d<tspan x="920.7" dy="15.8">14.38%</tspan><tspan x="920.7" dy="15.8">(0.35%)</tspan><tspan x="920.7" dy="15.8">189×</tspan></text></g>
<g id="n49" class="nd"><rect x="1361" y="1266" width="156.7" height="75.5" fill="#0d1977"/><text x="1439.35" y="1285">arraysetops:138:unique<tspan x="1439.35" dy="15.8">2.81%</tspan><tspan x="1439.35" dy="15.8">(0.41%)</tspan><tspan x="1439.35" dy="15.8">378×</tspan></text></g>
<g id="n50" class="nd"><rect x="2025.2" y="1266" width="143.5" height="75.5" fill="#0c5c88"/><text x="2096.95" y="1285">arraysetops:524:in1d<tspan x="2096.95" dy="15.8">16.22%</tspan><tspan x="2096.95" dy="15.8">(4.90%)</tspan><tspan x="2096.95" dy="15.8">306×</tspan></text></g>
<g id="n51" class="nd"><rect x="2447.6" y="1266" width="148.7" height="75.5" fill="#0d0f73"/><text x="2521.95" y="1285">numeric:77:zeros_like<tspan x="2521.95" dy="15.8">0.64%</tspan><tspan x="2521.95" dy="15.8">(0.19%)</tspan><tspan x="2521.95" dy="15.8">117×</tspan></text></g>
<g id="n52" class="nd"><rect x="2695.7" y="1266" width="151.5" height="75.5" fill="#0d1174"/><text x="2771.45" y="1285">numeric:219:ones_like<tspan x="2771.45" dy="15.8">0.91%</tspan><tspan x="2771.45" dy="15.8">(0.23%)</tspan><tspan x="2771.45" dy="15.8">189×</tspan></text></g>
<g id="n53" class="nd"><rect x="2859.3" y="1266" width="155" height="75.5" fill="#0d1977"/><text x="2936.8" y="1285">fromnumeric:2955:prod<tspan x="2936.8" dy="15.8">2.86%</tspan><tspan x="2936.8" dy="15.8">(0.43%)</tspan><tspan x="2936.8" dy="15.8">568×</tspan></text></g>
<g id="n54" class="nd"><rect x="3025.2" y="1266" width="161.8" height="75.5" fill="#0d1676"/><text x="3106.1" y="1285">fromnumeric:2703:amax<tspan x="3106.1" dy="15.8">2.20%</tspan><tspan x="3106.1" dy="15.8">(0.45%)</tspan><tspan x="3106.1" dy="15.8">612×</tspan></text></g>
<g id="n55" class="nd"><rect x="3199.1" y="1266" width="157.9" height="75.5" fill="#0d1877"/><text x="3278.05" y="1285">fromnumeric:2829:amin<tspan x="3278.05" dy="15.8">2.62%</tspan><tspan x="3278.05" dy="15.8">(0.49%)</tspan><tspan x="3278.05" dy="15.8">612×</tspan></text></g>
<g id="n56" class="nd"><rect x="102.7" y="1396.5" width="158.5" height="75.5" fill="#0d377f"/><text x="181.95" y="1415.5">_interface:189:_matvec<tspan x="181.95" dy="15.8">9.35%</tspan><tspan x="181.95" dy="15.8">(8.22%)</tspan><tspan x="181.95" dy="15.8">432×</tspan></text></g>
<g id="n57" class="nd"><rect x="334" y="1396.5" width="176.3" height="75.5" fill="#0d1174"/><text x="422.15" y="1415.5">fromnumeric:51:_wrapfunc<tspan x="422.15" dy="15.8">1.01%</tspan><tspan x="422.15" dy="15.8">(0.31%)</tspan><tspan x="422.15" dy="15.8">487×</tspan></text></g>
<g id="n58" class="nd"><rect x="521.2" y="1396.5" width="254.8" height="75.5" fill="#0c6089"/><text x="648.6" y="1415.5">&lt;__array_function__ internals&gt;:177:in1d<tspan x="648.6" dy="15.8">16.79%</tspan><tspan x="648.6" dy="15.8">(0.29%)</tspan><tspan x="648.6" dy="15.8">306×</tspan></text></g>
<g id="n59" class="nd"><rect x="786.4" y="1396.5" width="268.6" height="75.5" fill="#0d1b77"/><text x="920.7" y="1415.5">&lt;__array_function__ internals&gt;:177:unique<tspan x="920.7" dy="15.8">3.41%</tspan><tspan x="920.7" dy="15.8">(0.26%)</tspan><tspan x="920.7" dy="15.8">378×</tspan></text></g>
<g id="n60" class="nd"><rect x="1066.5" y="1396.5" width="178" height="75.5" fill="#0d1675"/><text x="1155.5" y="1415.5">arraysetops:323:_unique1d<tspan x="1155.5" dy="15.8">2.14%</tspan><tspan x="1155.5" dy="15.8">(1.62%)</tspan><tspan x="1155.5" dy="15.8">378×</tspan></text></g>
<g id="n61" class="nd"><rect x="1256.5" y="1396.5" width="261.8" height="75.5" fill="#0d1977"/><text x="1387.4" y="1415.5">&lt;__array_function__ internals&gt;:177:amax<tspan x="1387.4" dy="15.8">2.91%</tspan><tspan x="1387.4" dy="15.8">(0.36%)</tspan><tspan x="1387.4" dy="15.8">612×</tspan></text></g>
<g id="n62" class="nd"><rect x="1529.2" y="1396.5" width="289.9" height="75.5" fill="#0d1074"/><text x="1674.15" y="1415.5">&lt;__array_function__ internals&gt;:177:zeros_like<tspan x="1674.15" dy="15.8">0.83%</tspan><tspan x="1674.15" dy="15.8">(0.10%)</tspan><tspan x="1674.15" dy="15.8">117×</tspan></text></g>
<g id="n63" class="nd"><rect x="1830" y="1396.5" width="258.3" height="75.5" fill="#0d1b77"/><text x="1959.15" y="1415.5">&lt;__array_function__ internals&gt;:177:amin<tspan x="1959.15" dy="15.8">3.35%</tspan><tspan x="1959.15" dy="15.8">(0.37%)</tspan><tspan x="1959.15" dy="15.8">612×</tspan></text></g>
<g id="n64" class="nd"><rect x="2099.8" y="1396.5" width="124.6" height="75.5" fill="#0d1074"/><text x="2162.1" y="1415.5">numeric:150:ones<tspan x="2162.1" dy="15.8">0.87%</tspan><tspan x="2162.1" dy="15.8">(0.47%)</tspan><tspan x="2162.1" dy="15.8">190×</tspan></text></g>
<g id="n65" class="nd"><rect x="2235.8" y="1396.5" width="284.7" height="75.5" fill="#0d1274"/><text x="2378.15" y="1415.5">&lt;__array_function__ internals&gt;:177:ones_like<tspan x="2378.15" dy="15.8">1.18%</tspan><tspan x="2378.15" dy="15.8">(0.14%)</tspan><tspan x="2378.15" dy="15.8">189×</tspan></text></g>
<g id="n66" class="nd"><rect x="2593.5" y="1396.5" width="145.3" height="75.5" fill="#0d1274"/><text x="2666.15" y="1415.5">getlimits:668:__init__<tspan x="2666.15" dy="15.8">1.11%</tspan><tspan x="2666.15" dy="15.8">(1.11%)</tspan><tspan x="2666.15" dy="15.8">1188×</tspan></text></g>
<g id="n67" class="nd"><rect x="2750.2" y="1396.5" width="293.4" height="75.5" fill="#0d0f73"/><text x="2896.9" y="1415.5">&lt;__array_function__ internals&gt;:177:empty_like<tspan x="2896.9" dy="15.8">0.56%</tspan><tspan x="2896.9" dy="15.8">(0.24%)</tspan><tspan x="2896.9" dy="15.8">306×</tspan></text></g>
<g id="n68" class="nd"><rect x="3141.7" y="1396.5" width="203.8" height="75.5" fill="#0d2a7b"/><text x="3243.6" y="1415.5">fromnumeric:69:_wrapreduction<tspan x="3243.6" dy="15.8">6.65%</tspan><tspan x="3243.6" dy="15.8">(2.25%)</tspan><tspan x="3243.6" dy="15.8">1891×</tspan></text></g>
<g id="n69" class="nd"><rect x="5.2" y="1527" width="152.1" height="75.5" fill="#0d1174"/><text x="81.25" y="1546">_interface:303:matmat<tspan x="81.25" dy="15.8">0.99%</tspan><tspan x="81.25" dy="15.8">(0.43%)</tspan><tspan x="81.25" dy="15.8">432×</tspan></text></g>
<g id="n70" class="nd"><rect x="168.2" y="1527" width="315.7" height="75.5" fill="#0d0f73"/><text x="326.05" y="1546">~:0:&lt;method 'reshape' of 'numpy.ndarray' objects&gt;<tspan x="326.05" dy="15.8">0.65%</tspan><tspan x="326.05" dy="15.8">(0.65%)</tspan><tspan x="326.05" dy="15.8">1207×</tspan></text></g>
<g id="n71" class="nd"><rect x="2550.4" y="1527" width="269.3" height="75.5" fill="#0d1074"/><text x="2685.05" y="1546">&lt;__array_function__ internals&gt;:177:copyto<tspan x="2685.05" dy="15.8">0.86%</tspan><tspan x="2685.05" dy="15.8">(0.36%)</tspan><tspan x="2685.05" dy="15.8">496×</tspan></text></g>
<g id="n72" class="nd"><rect x="3032" y="1527" width="297.4" height="75.5" fill="#0d1c77"/><text x="3180.7" y="1546">~:0:&lt;method 'reduce' of 'numpy.ufunc' objects&gt;<tspan x="3180.7" dy="15.8">3.69%</tspan><tspan x="3180.7" dy="15.8">(3.69%)</tspan><tspan x="3180.7" dy="15.8">2332×</tspan></text></g>
<g id="n73" class="nd"><rect x="3341.5" y="1527" width="185.9" height="75.5" fill="#0d1174"/><text x="3434.45" y="1546">fromnumeric:70:&lt;dictcomp&gt;<tspan x="3434.45" dy="15.8">1.00%</tspan><tspan x="3434.45" dy="15.8">(1.00%)</tspan><tspan x="3434.45" dy="15.8">1891×</tspan></text></g>
</svg>
